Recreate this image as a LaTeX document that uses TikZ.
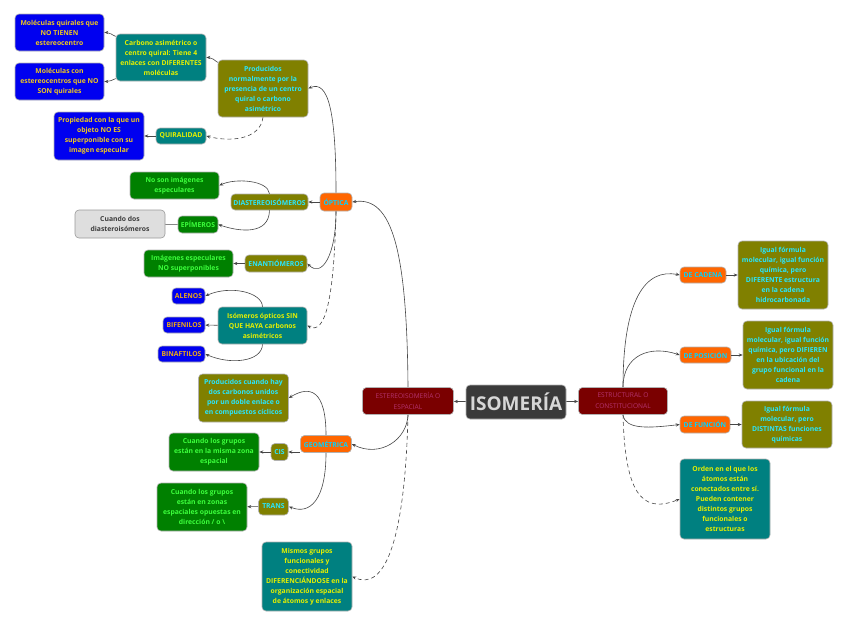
\documentclass[tikz,border=0pt]{standalone}
\usepackage{fontspec}
\setmainfont{Open Sans}
\usetikzlibrary{arrows.meta,calc}
\definecolor{bluefill}{RGB}{0,0,240}
\definecolor{bluetxt}{RGB}{240,200,30}
\definecolor{bluetxtb}{RGB}{240,170,20}
\definecolor{tealfill}{RGB}{0,128,128}
\definecolor{tealtxt}{RGB}{230,240,0}
\definecolor{olivefill}{RGB}{128,128,0}
\definecolor{olivetxt}{RGB}{40,230,255}
\definecolor{greenfill}{RGB}{0,128,0}
\definecolor{greentxt}{RGB}{60,255,60}
\definecolor{orangefill}{RGB}{255,102,0}
\definecolor{orangetxt}{RGB}{0,210,255}
\definecolor{redfill}{RGB}{122,0,0}
\definecolor{redtxt}{RGB}{180,50,110}
\definecolor{grayfill}{RGB}{222,222,222}
\definecolor{graytxt}{RGB}{60,60,60}
\definecolor{isofill}{RGB}{58,58,58}
\definecolor{isotxt}{RGB}{215,215,215}
\definecolor{linecol}{RGB}{70,70,70}
\newcommand\fsb{\fontsize{6.8}{10}\selectfont\bfseries}
\newcommand\fsr{\fontsize{6.6}{11}\selectfont}
\tikzset{
  x=1pt,y=-1pt,
  box/.style={draw=black!30, line width=0.6pt, rounded corners=4pt, align=center, inner sep=0pt, font=\fsb},
  sz/.style 2 args={minimum width=#1pt, minimum height=#2pt},
  bbox/.style={box, fill=bluefill, text=bluetxt},
  bboxb/.style={box, fill=bluefill, text=bluetxtb},
  tbox/.style={box, fill=tealfill, text=tealtxt},
  obox/.style={box, fill=olivefill, text=olivetxt},
  gbox/.style={box, fill=greenfill, text=greentxt},
  orbox/.style={box, fill=orangefill, text=orangetxt},
  rbox/.style={box, fill=redfill, text=redtxt, font=\fsr},
  graybox/.style={box, fill=grayfill, text=graytxt, draw=black!40},
  conn/.style={draw=linecol, line width=0.6pt, -{Stealth[length=4pt,width=3.2pt]}},
  dconn/.style={conn, dash pattern=on 4pt off 3pt},
  plain/.style={draw=linecol, line width=0.6pt}
}
\begin{document}
\begin{tikzpicture}
\useasboundingbox (0,0) rectangle (848,625);
% central
\node[box, fill=isofill, text=isotxt, font=\fontsize{19}{22}\selectfont\bfseries, sz={100}{34}] (iso) at (516,402) {ISOMERÍA};
\node[rbox, sz={91}{27}] (estereo) at (408,401) {ESTEREOISOMERÍA O\\ESPACIAL};
\node[rbox, sz={89}{27}] (estruct) at (623,401) {ESTRUCTURAL O\\CONSTITUCIONAL};
% optica branch
\node[orbox, sz={32}{18}] (optica) at (336,202) {ÓPTICA};
\node[obox, sz={90}{57}] (prod) at (263,88.5) {Producidos\\normalmente por la\\presencia de un centro\\quiral o carbono\\asimétrico};
\node[tbox, sz={90}{47}] (carb) at (161,57.5) {Carbono asimétrico o\\centro quiral: Tiene 4\\enlaces con DIFERENTES\\moléculas};
\node[bbox, sz={89}{37}] (m1) at (59.5,32.5) {Moléculas quirales que\\NO TIENEN\\estereocentro};
\node[bbox, sz={89}{37}] (m2) at (59.5,81.5) {Moléculas con\\estereocentros que NO\\SON quirales};
\node[tbox, sz={50}{16}] (quir) at (181,136) {QUIRALIDAD};
\node[bbox, sz={90}{48}] (prop) at (99,136) {Propiedad con la que un\\objeto NO ES\\superponible con su\\imagen especular};
\node[obox, sz={77}{16}] (diast) at (269.5,202) {DIASTEREOISÓMEROS};
\node[gbox, sz={89}{27}] (nosom) at (174.5,185.5) {No son imágenes\\especulares};
\node[gbox, sz={40}{17}] (epim) at (198,224.5) {EPÍMEROS};
\node[graybox, sz={90}{28}] (cdos) at (120,224) {Cuando dos\\diasteroisómeros};
\node[obox, sz={62}{17}] (enan) at (276,263.5) {ENANTIÓMEROS};
\node[gbox, sz={89}{27}] (imesp) at (188.5,263.5) {Imágenes especulares\\NO superponibles};
\node[tbox, sz={89}{37}] (isop) at (262.5,325.5) {Isómeros ópticos SIN\\QUE HAYA carbonos\\asimétricos};
\node[bboxb, sz={33}{16}] (alenos) at (188.5,296) {ALENOS};
\node[bboxb, sz={42}{16}] (bifen) at (184,325) {BIFENILOS};
\node[bboxb, sz={47}{16}] (binaf) at (181.5,354) {BINAFTILOS};
% geometrica branch
\node[orbox, sz={51}{17}] (geom) at (326,444) {GEOMÉTRICA};
\node[obox, sz={90}{48}] (pcuando) at (243.5,398) {Producidos cuando hay\\dos carbonos unidos\\por un doble enlace o\\en compuestos cíclicos};
\node[obox, sz={17}{17}] (cis) at (279.5,452) {CIS};
\node[gbox, sz={90}{38}] (cmisma) at (214,452) {Cuando los grupos\\están en la misma zona\\espacial};
\node[obox, sz={30}{17}] (trans) at (273.5,506.5) {TRANS};
\node[gbox, sz={90}{48}] (copuesta) at (202,507) {Cuando los grupos\\están en zonas\\espaciales opuestas en\\dirección / o \textbackslash};
\node[tbox, sz={90}{69}] (mismos) at (307,576.5) {Mismos grupos\\funcionales y\\conectividad\\DIFERENCIÁNDOSE en la\\organización espacial\\de átomos y enlaces};
% estructural branch
\node[orbox, sz={46}{16}] (cadena) at (703,275) {DE CADENA};
\node[obox, sz={90}{68}] (icad) at (783,275) {Igual fórmula\\molecular, igual función\\química, pero\\DIFERENTE estructura\\en la cadena\\hidrocarbonada};
\node[orbox, sz={51}{16}] (posic) at (705.5,355) {DE POSICIÓN};
\node[obox, sz={90}{68}] (ipos) at (788,355) {Igual fórmula\\molecular, igual función\\química, pero DIFIEREN\\en la ubicación del\\grupo funcional en la\\cadena};
\node[orbox, sz={50}{17}] (func) at (705,424.5) {DE FUNCIÓN};
\node[obox, sz={90}{47}] (ifun) at (787,424.5) {Igual fórmula\\molecular, pero\\DISTINTAS funciones\\químicas};
\node[tbox, sz={90}{80}] (orden) at (725,499) {Orden en el que los\\átomos están\\conectados entre sí.\\Pueden contener\\distintos grupos\\funcionales o\\estructuras};
% connectors
\draw[conn] (iso) -- (estereo);
\draw[conn] (iso) -- (estruct);
\draw[conn] (estereo.north) .. controls (407,250) and (392,196) .. (optica.east);
\draw[conn] (estereo.south) .. controls (407,440) and (380,458) .. (geom.east);
\draw[dconn] (estereo.south) .. controls (405,540) and (385,592) .. (mismos.east);
\draw[conn] (optica.north) .. controls (336,110) and (328,80) .. (prod.east);
\draw[conn] (optica) -- (diast);
\draw[conn] (optica.south) .. controls (336,255) and (322,278) .. (enan.east);
\draw[dconn] (optica.south) .. controls (334,300) and (325,335) .. (isop.east);
\draw[conn] (prod.150) .. controls (214,60) and (212,57.5) .. (carb.east);
\draw[conn] (carb.155) .. controls (112,35) and (110,32.5) .. (m1.east);
\draw[conn] (carb.205) .. controls (112,80) and (110,81.5) .. (m2.east);
\draw[dconn] (prod.south) .. controls (260,140) and (230,142) .. (quir.east);
\draw[conn] (quir) -- (prop);
\draw[conn] (diast.north) .. controls (268,180) and (235,178) .. (nosom.east);
\draw[conn] (diast.south) .. controls (269,235) and (240,232) .. (epim.east);
\draw[plain] (epim) -- (cdos);
\draw[conn] (enan) -- (imesp);
\draw[conn] (isop.north) .. controls (262,292) and (230,285) .. (alenos.east);
\draw[conn] (isop) -- (bifen);
\draw[conn] (isop.south) .. controls (262,362) and (230,365) .. (binaf.east);
\draw[conn] (geom.north) .. controls (326,390) and (310,385) .. (pcuando.east);
\draw[conn] (cis.east -| geom.west) -- (cis.east);
\draw[conn] (geom.south) .. controls (326,500) and (310,515) .. (trans.east);
\draw[conn] (cis) -- (cmisma);
\draw[conn] (trans) -- (copuesta);
\draw[conn] (estruct.north) .. controls (623,300) and (645,268) .. (cadena.west);
\draw[conn] (cadena) -- (icad);
\draw[conn] (estruct.north) .. controls (623,355) and (650,345) .. (posic.west);
\draw[conn] (posic) -- (ipos);
\draw[conn] (estruct.south) .. controls (625,430) and (650,428) .. (func.west);
\draw[conn] (func) -- (ifun);
\draw[dconn] (estruct.south) .. controls (625,490) and (640,515) .. (orden.west);
\end{tikzpicture}
\end{document}
